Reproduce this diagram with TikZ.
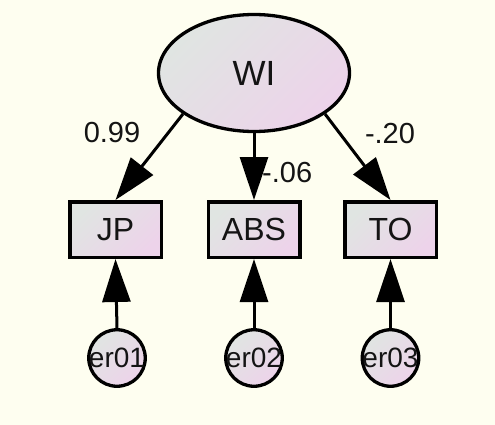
\documentclass[tikz,border=0pt]{standalone}
\usepackage{fontspec}
\setmainfont{Liberation Sans}
\usetikzlibrary{shapes.geometric,arrows.meta}
\definecolor{paper}{RGB}{254,254,240}
\definecolor{fillA}{RGB}{224,229,226}
\definecolor{fillB}{RGB}{237,211,234}
\definecolor{ink}{RGB}{20,20,20}
\tikzset{
  fillgrad/.style={top color=fillA, bottom color=fillB, shading angle=45},
  latent/.style={ellipse, draw=black, line width=3.3pt, fillgrad, inner sep=0pt,
    minimum width=191pt, minimum height=117pt, text=ink,
    font=\fontsize{35}{40}\selectfont},
  observed/.style={rectangle, draw=black, line width=3.5pt, fillgrad, inner sep=0pt,
    minimum width=91.5pt, minimum height=55.5pt, text=ink,
    font=\fontsize{32}{36}\selectfont},
  errvar/.style={circle, draw=black, line width=3.3pt, fillgrad, inner sep=0pt,
    minimum size=56.5pt},
  errtext/.style={text=ink, font=\fontsize{28}{32}\selectfont},
  arrowpath/.style={line width=3pt, draw=black,
    -{Triangle[length=43pt, width=28pt]}},
  coef/.style={text=ink, font=\fontsize{29}{32}\selectfont, inner sep=0pt},
}
\begin{document}
\begin{tikzpicture}[x=1pt, y=-1pt]
  \fill[paper] (0,0) rectangle (495,425);
  \useasboundingbox (0,0) rectangle (495,425);

  % latent factor
  \node[latent] (WI) at (254,73) {WI};

  % indicators
  \node[observed] (JP)  at (115.5,229.5) {JP};
  \node[observed] (ABS) at (254,229.5) {ABS};
  \node[observed] (TO)  at (390.5,229.5) {TO};

  % error terms
  \node[errvar, label={[errtext]center:er01}] (e1) at (117,358) {};
  \node[errvar, label={[errtext]center:er02}] (e2) at (254,358) {};
  \node[errvar, label={[errtext]center:er03}] (e3) at (390.5,358) {};

  % loadings
  \draw[arrowpath] (WI.210) -- (JP.north);
  \draw[arrowpath] (WI.south) -- (ABS.north);
  \draw[arrowpath] (WI.-30) -- (TO.north);

  % error paths
  \draw[arrowpath] (e1.north) -- (JP.south);
  \draw[arrowpath] (e2.north) -- (ABS.south);
  \draw[arrowpath] (e3.north) -- (TO.south);

  % coefficients
  \node[coef] (c1) at (112,133) {0.99};
  \node[coef, anchor=west] (c2) at (262,173) {-.06};
  \node[coef] (c3) at (390,134) {-.20};
\end{tikzpicture}
\end{document}
